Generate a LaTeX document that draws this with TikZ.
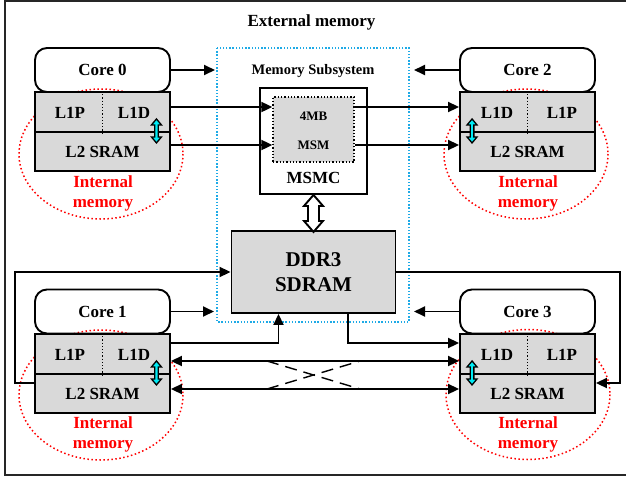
\documentclass[tikz,border=0pt]{standalone}
\usepackage{fontspec}
\setmainfont{Liberation Serif}
\usetikzlibrary{arrows.meta,calc}
\definecolor{cachegray}{RGB}{217,217,217}
\definecolor{subcyan}{RGB}{30,170,230}
\definecolor{memred}{RGB}{255,0,0}
\definecolor{fatcyan}{RGB}{0,235,245}

% fat two-headed cyan arrow between L1 and L2, #1 = upper tip
\newcommand\cacheswap[1]{%
  \draw[line width=1.3pt, fill=fatcyan, line join=miter]
    #1 -- ++(5,6) -- ++(-3.2,0) -- ++(0,12) -- ++(3.2,0) -- ++(-5,6)
       -- ++(-5,-6) -- ++(3.2,0) -- ++(0,-12) -- ++(-3.2,0) -- cycle;}

\begin{document}
\begin{tikzpicture}[x=1pt, y=-1pt,
  bigfont/.style={font=\fontsize{17}{20}\selectfont\bfseries},
  box/.style={draw, line width=1.9pt, inner sep=0pt},
  corebox/.style={box, rounded corners=12pt, minimum width=135pt,
    minimum height=44pt, bigfont},
  l1cell/.style={box, fill=cachegray, minimum width=135pt, minimum height=40pt},
  l2cell/.style={box, fill=cachegray, minimum width=135pt, minimum height=39pt, bigfont},
  lab/.style={bigfont, inner sep=0pt},
  redlab/.style={lab, text=memred, align=center},
  reddots/.style={draw=memred, line width=1.5pt, dash pattern=on 1.5pt off 2.5pt},
  divider/.style={line width=1.2pt, dash pattern=on 1.2pt off 2pt},
  arr/.style={line width=1.9pt, -{Triangle[length=11pt,width=10pt]}},
  arrs/.style={line width=1.9pt,
    {Triangle[length=11pt,width=10pt]}-{Triangle[length=11pt,width=10pt]}},
  cross/.style={line width=1.4pt, dash pattern=on 12pt off 7pt},
]
\useasboundingbox (0,0) rectangle (626,477);
\draw[line width=1.6pt, black!85] (5,1) rectangle (640,475);

\node[lab] (extlab) at (311.5,22) {External memory};

% memory subsystem
\draw[subcyan, line width=1.4pt, dash pattern=on 1.4pt off 1.8pt] (217,48) rectangle (409,322);
\node[font=\fontsize{14.5}{17}\selectfont\bfseries, inner sep=0pt] (sublab) at (313,71) {Memory Subsystem};

\node[box, minimum width=107pt, minimum height=106pt] (msmc) at (313.5,141) {};
\node[draw, line width=1.3pt, dash pattern=on 1.3pt off 2pt, fill=cachegray,
      minimum width=81pt, minimum height=65pt, inner sep=0pt] (msm) at (313.5,129.5) {};
\node[font=\fontsize{13}{15}\selectfont\bfseries, inner sep=0pt] (msmtop) at (313.5,116) {4MB};
\node[font=\fontsize{13}{15}\selectfont\bfseries, inner sep=0pt] (msmbot) at (313.5,145) {MSM};
\node[lab] (msmclab) at (313.5,178) {MSMC};

\node[box, fill=cachegray, minimum width=164pt, minimum height=82pt, align=center,
      font=\fontsize{21}{25}\selectfont\bfseries] (ddr) at (313.5,272) {DDR3\\SDRAM};

% hollow link MSMC <-> DDR3
\draw[line width=1.9pt, fill=white, line join=miter]
  (msmc.south) -- ++(9.5,11) -- ++(-4,0) -- ++(0,15) -- ++(4,0) -- ++(-9.5,11)
  -- ++(-9.5,-11) -- ++(4,0) -- ++(0,-15) -- ++(-4,0) -- cycle;

% ---- Core 0 ----
\draw[reddots] (101,154) ellipse [x radius=82, y radius=65];
\node[corebox] (core0) at (102.5,70) {Core 0};
\node[l1cell] (l1c0) at (102.5,112) {};
\node[l2cell] (l2c0) at (102.5,151.5) {L2 SRAM};
\draw[divider] (l1c0.north) -- (l1c0.south);
\node[lab] (p0) at (70,113) {L1P};
\node[lab] (d0) at (134,113) {L1D};
\cacheswap{($(l1c0.south east)+(-14.5,-14)$)}
\node[redlab] (int0) at (103,193) {Internal\\memory};

% ---- Core 2 ----
\draw[reddots] (526,154) ellipse [x radius=82, y radius=65];
\node[corebox] (core2) at (527.5,70) {Core 2};
\node[l1cell] (l1c2) at (527.5,112) {};
\node[l2cell] (l2c2) at (527.5,151.5) {L2 SRAM};
\draw[divider] (l1c2.north) -- (l1c2.south);
\node[lab] (d2) at (497,113) {L1D};
\node[lab] (p2) at (562,113) {L1P};
\cacheswap{($(l1c2.south west)+(13,-14)$)}
\node[redlab] (int2) at (528,193) {Internal\\memory};

% ---- Core 1 ----
\draw[reddots] (101,395) ellipse [x radius=82, y radius=65];
\node[corebox] (core1) at (102.5,311.5) {Core 1};
\node[l1cell] (l1c1) at (102.5,354) {};
\node[l2cell] (l2c1) at (102.5,393.5) {L2 SRAM};
\draw[divider] (l1c1.north) -- (l1c1.south);
\node[lab] (p1) at (70,355) {L1P};
\node[lab] (d1) at (134,355) {L1D};
\cacheswap{($(l1c1.south east)+(-14.5,-14)$)}
\node[redlab] (int1) at (103,434) {Internal\\memory};

% ---- Core 3 ----
\draw[reddots] (528,394.5) ellipse [x radius=82, y radius=65];
\node[corebox] (core3) at (527.5,311.5) {Core 3};
\node[l1cell] (l1c3) at (527.5,354) {};
\node[l2cell] (l2c3) at (527.5,393.5) {L2 SRAM};
\draw[divider] (l1c3.north) -- (l1c3.south);
\node[lab] (d3) at (497,355) {L1D};
\node[lab] (p3) at (562,355) {L1P};
\cacheswap{($(l1c3.south west)+(13,-14)$)}
\node[redlab] (int3) at (528,434) {Internal\\memory};

% ---- connectors ----
\coordinate (in0) at (215,70);
\coordinate (in2) at (414,70);
\coordinate (in1) at (214,311.5);
\coordinate (in3) at (414,311.5);
\draw[arr] (core0) -- (in0);
\draw[arr] (core2) -- (in2);
\draw[arr] (core1) -- (in1);
\draw[arr] (core3) -- (in3);

\draw[arr] ([yshift=5pt]l1c0.east) -- ([yshift=5pt]l1c0.east -| msm.west);
\draw[arr] ([yshift=6.5pt]l2c0.east) -- ([yshift=6.5pt]l2c0.east -| msm.west);
\draw[arr] ([yshift=5pt]l1c2.west -| msm.east) -- ([yshift=5pt]l1c2.west);
\draw[arr] ([yshift=6.5pt]l2c2.west -| msm.east) -- ([yshift=6.5pt]l2c2.west);

% routes to and from DDR3
\draw[arr] ([yshift=10.5pt]l2c1.west) -- ++(-19,0) |- (ddr.west);
\draw[arr] ([yshift=11pt]l1c1.east) -| ([xshift=-35pt]ddr.south);
\draw[arr] ([xshift=34.5pt]ddr.south) |- ([yshift=11pt]l1c3.west);
\draw[arr] (ddr.east) -| ($(l2c3.east)+(24,-10.5)$) -- ([yshift=10.5pt]l2c3.east);

% core-to-core links
\draw[arrs] ([yshift=-7pt]l1c1.east) -- ([yshift=-7pt]l1c3.west);
\draw[arrs] ([yshift=4.5pt]l2c1.east) -- ([yshift=4.5pt]l2c3.west);
\draw[cross] (267,361) -- (360,389);
\draw[cross] (267,389) -- (360,361);
\end{tikzpicture}
\end{document}
